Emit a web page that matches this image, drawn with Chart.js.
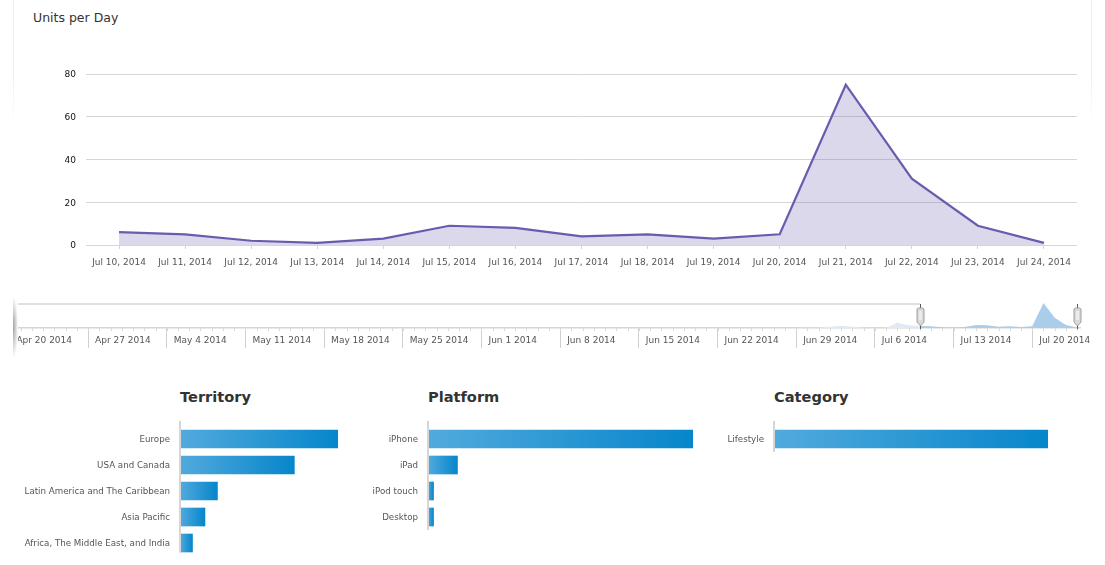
<!DOCTYPE html>
<html>
<head>
<meta charset="utf-8">
<title>Units per Day</title>
<script src="https://cdn.jsdelivr.net/npm/chart.js@4"></script>
<style>
    html, body { margin: 0; padding: 0; background: #fff; overflow: hidden; }
    body { width: 1105px; height: 565px; position: relative; font-family: "DejaVu Sans", sans-serif; }
    canvas { position: absolute; display: block; }
    .titulo { position: absolute; margin: 0; color: #333; white-space: nowrap; }
    .panelTitle { top: 10px; left: 33px; font-size: 12.5px; font-weight: normal; line-height: 16px; }
    .barTitle { top: 387px; font-size: 14.6px; font-weight: bold; line-height: 20px; }
    .edge { position: absolute; top: 0; width: 1px; height: 125px; background: linear-gradient(#efefef, #efefef 60%, #fff); }
    .navShadow { position: absolute; left: 13px; top: 296px; width: 5px; height: 62px; background: radial-gradient(ellipse at left center, #a0a0a0, #fff 72%); }
</style>
</head>
<body>
<div class="edge" style="left:13px"></div>
<div class="edge" style="left:1091px"></div>
<h2 class="titulo panelTitle">Units per Day</h2>
<canvas id="chartUnits" width="1105" height="290" style="left:0;top:0"></canvas>
<canvas id="chartNav" width="1105" height="70" style="left:0;top:290px"></canvas>
<div class="navShadow"></div>
<h3 class="titulo barTitle" style="left:180px">Territory</h3>
<h3 class="titulo barTitle" style="left:428px">Platform</h3>
<h3 class="titulo barTitle" style="left:774px">Category</h3>
<canvas id="chartTerritory" width="350" height="150" style="left:0;top:415px"></canvas>
<canvas id="chartPlatform" width="350" height="150" style="left:350px;top:415px"></canvas>
<canvas id="chartCategory" width="405" height="150" style="left:700px;top:415px"></canvas>

<script>
// Main chart
const dayLabels = ['Jul 10, 2014', 'Jul 11, 2014', 'Jul 12, 2014', 'Jul 13, 2014', 'Jul 14, 2014',
    'Jul 15, 2014', 'Jul 16, 2014', 'Jul 17, 2014', 'Jul 18, 2014', 'Jul 19, 2014',
    'Jul 20, 2014', 'Jul 21, 2014', 'Jul 22, 2014', 'Jul 23, 2014', 'Jul 24, 2014'];
const unitsPerDay = [6, 5, 2, 1, 3, 9, 8, 4, 5, 3, 5, 75, 31, 9, 1];
const unitTicks = [0, 20, 40, 60, 80];

// Navigator: one value per day, day 0 is Apr 20 2014
const navValues = [
    0, 0, 0, 0, 0, 0, 0, 0, 0, 0, 0, 0, 0, 0,
    0, 0, 0, 0, 0, 0, 0, 0, 0, 0, 0, 0, 0, 0,
    0, 0, 0, 0, 0, 0, 0, 0, 0, 0, 0, 0, 0, 0,
    0, 0, 0, 0, 0, 0, 0, 0, 0, 0, 0, 0, 0, 0,
    0, 0, 0, 0, 0, 0, 0, 0, 0, 0, 0, 0, 0, 0,
    0, 1, 1, 4, 7, 4, 1, 0, 1, 16, 8,
    6, 5, 2, 1, 3, 9, 8, 4, 5, 3, 5, 75, 31, 9, 1
];
const navWeekLabels = ['Apr 20 2014', 'Apr 27 2014', 'May 4 2014', 'May 11 2014', 'May 18 2014',
    'May 25 2014', 'Jun 1 2014', 'Jun 8 2014', 'Jun 15 2014', 'Jun 22 2014', 'Jun 29 2014',
    'Jul 6 2014', 'Jul 13 2014', 'Jul 20 2014'];
const navWeekDays = [0, 7, 14, 21, 28, 35, 42, 49, 56, 63, 70, 77, 84, 91];
const selectionStart = 81; // Jul 10
const selectionEnd = 95;   // Jul 24

// Bar charts
const territoryNames = ['Europe', 'USA and Canada', 'Latin America and The Caribbean', 'Asia Pacific', 'Africa, The Middle East, and India'];
const territoryUnits = [76, 55, 18, 12, 6];
const platformNames = ['iPhone', 'iPad', 'iPod touch', 'Desktop'];
const platformUnits = [144, 16, 3, 3];
const categoryNames = ['Lifestyle'];
const categoryUnits = [167];

const FONT = '"DejaVu Sans", sans-serif';
Chart.defaults.animation = false;
Chart.defaults.responsive = false;
Chart.defaults.font.family = FONT;
Chart.defaults.plugins.legend.display = false;
Chart.defaults.plugins.tooltip.enabled = false;

/**
 * Units per Day
 */
new Chart(document.getElementById('chartUnits'), {
    type: 'line',
    data: {
        labels: dayLabels,
        datasets: [{
            data: unitsPerDay,
            borderColor: '#6a5bae',
            borderWidth: 2.2,
            backgroundColor: 'rgba(106, 91, 174, 0.24)',
            fill: 'origin',
            tension: 0,
            pointRadius: 0
        }]
    },
    options: {
        layout: { padding: { top: 74, right: 28 } },
        scales: {
            x: {
                offset: true,
                afterFit: (scale) => { scale.height = 45; },
                border: { display: false },
                grid: { offset: false, drawOnChartArea: false, tickLength: 4, tickColor: '#d4d4d4' },
                ticks: { color: '#555', font: { size: 9 }, padding: 8, maxRotation: 0, autoSkip: false }
            },
            y: {
                min: 0,
                max: 80,
                afterFit: (scale) => { scale.width = 86; },
                afterBuildTicks: (scale) => { scale.ticks = unitTicks.map(v => ({ value: v })); },
                border: { display: false },
                grid: { color: '#d6d6d6', drawTicks: false },
                ticks: { color: '#111', font: { size: 9 }, padding: 10, labelOffset: 1 }
            }
        }
    }
});

/**
 * Navigator extras: daily ticks, week labels, selection line and handles
 */
const navExtras = {
    id: 'navExtras',
    afterDraw(chart) {
        const { ctx, chartArea } = chart;
        const x = chart.scales.x;
        const bottom = chartArea.bottom;

        ctx.save();
        ctx.strokeStyle = '#d8d8d8';
        ctx.lineWidth = 1;
        for (let day = Math.ceil(x.min); day <= selectionEnd; day++) {
            const px = Math.round(x.getPixelForValue(day)) + 0.5;
            ctx.beginPath();
            ctx.moveTo(px, bottom);
            ctx.lineTo(px, bottom + 3);
            ctx.stroke();
        }

        ctx.fillStyle = '#555';
        ctx.font = '9px ' + FONT;
        ctx.textAlign = 'left';
        ctx.textBaseline = 'middle';
        navWeekDays.forEach((day, i) => {
            ctx.fillText(navWeekLabels[i], x.getPixelForValue(day) + 7, bottom + 13);
        });

        // Line above the part left of the selection
        const handleA = x.getPixelForValue(selectionStart);
        const handleB = x.getPixelForValue(selectionEnd);
        ctx.strokeStyle = '#d6d6d6';
        ctx.lineWidth = 1.5;
        ctx.beginPath();
        ctx.moveTo(chartArea.left, 14);
        ctx.lineTo(handleA, 14);
        ctx.stroke();

        [handleA, handleB].forEach(px => drawHandle(ctx, Math.round(px) + 0.5));
        ctx.restore();
    }
};

function drawHandle(ctx, px) {
    ctx.strokeStyle = '#555';
    ctx.lineWidth = 1;
    ctx.beginPath();
    ctx.moveTo(px, 14);
    ctx.lineTo(px, 39);
    ctx.stroke();

    ctx.fillStyle = '#d9d9d9';
    ctx.strokeStyle = '#a0a0a0';
    ctx.beginPath();
    ctx.moveTo(px - 3.5, 19);
    ctx.lineTo(px - 2, 18);
    ctx.lineTo(px + 2, 18);
    ctx.lineTo(px + 3.5, 19);
    ctx.lineTo(px + 3.5, 32);
    ctx.lineTo(px, 36);
    ctx.lineTo(px - 3.5, 32);
    ctx.closePath();
    ctx.fill();
    ctx.stroke();

    ctx.fillStyle = '#ececec';
    ctx.fillRect(px - 1.5, 21, 3, 9);
}

const navPoints = navValues.map((v, i) => ({ x: i, y: v }));

new Chart(document.getElementById('chartNav'), {
    type: 'line',
    data: {
        datasets: [
            {
                data: navPoints.filter(p => p.x <= selectionStart),
                backgroundColor: '#deeaf6',
                borderWidth: 0,
                fill: 'origin',
                pointRadius: 0
            },
            {
                data: navPoints.filter(p => p.x >= selectionStart),
                backgroundColor: '#a9cdea',
                borderWidth: 0,
                fill: 'origin',
                pointRadius: 0
            }
        ]
    },
    options: {
        layout: { padding: { left: 14, right: 25, top: 13 } },
        scales: {
            x: {
                type: 'linear',
                min: 0.41,
                max: 95.25,
                afterFit: (scale) => { scale.height = 32; },
                afterBuildTicks: (scale) => {
                    scale.ticks = navWeekDays.filter(d => d > scale.min).map(v => ({ value: v }));
                },
                border: { color: '#d6d6d6', width: 1.5 },
                grid: { drawOnChartArea: false, tickLength: 20, tickColor: '#d0d0d0' },
                ticks: { display: false }
            },
            y: { display: false, min: 0, max: 75 }
        }
    },
    plugins: [navExtras]
});

/**
 * Horizontal bars
 */
const barAxisLine = {
    id: 'barAxisLine',
    afterDraw(chart) {
        const { ctx, chartArea } = chart;
        ctx.save();
        ctx.strokeStyle = '#d6d6d6';
        ctx.lineWidth = 2;
        ctx.beginPath();
        ctx.moveTo(chartArea.left, chartArea.top - 5);
        ctx.lineTo(chartArea.left, Math.min(chartArea.bottom, 137.5));
        ctx.stroke();
        ctx.restore();
    }
};

function barGradient(context) {
    const chart = context.chart;
    if (!chart.chartArea || !chart.scales.x || context.raw === undefined) return '#2c97d4';
    const x0 = chart.scales.x.getPixelForValue(0);
    const x1 = chart.scales.x.getPixelForValue(context.raw);
    const gradient = chart.ctx.createLinearGradient(x0, 0, x1, 0);
    gradient.addColorStop(0, '#52aadd');
    gradient.addColorStop(1, '#0686cb');
    return gradient;
}

function renderBars(canvasId, names, values, axisLeft, axisRight, canvasWidth) {
    new Chart(document.getElementById(canvasId), {
        type: 'bar',
        data: {
            labels: names,
            datasets: [{
                data: values,
                backgroundColor: barGradient,
                barThickness: 18
            }]
        },
        options: {
            indexAxis: 'y',
            layout: { padding: { top: 11, right: canvasWidth - axisRight, bottom: 150 - 11 - names.length * 26 } },
            scales: {
                x: { display: false, min: 0, max: Math.max(...values) },
                y: {
                    afterFit: (scale) => {
                        scale.width = axisLeft;
                        scale.paddingTop = 0;
                        scale.paddingBottom = 0;
                    },
                    border: { display: false },
                    grid: { display: false, drawTicks: false },
                    ticks: { color: '#555', font: { size: 8.7 }, padding: 10, autoSkip: false, labelOffset: 1 }
                }
            }
        },
        plugins: [barAxisLine]
    });
}

renderBars('chartTerritory', territoryNames, territoryUnits, 180, 338, 350);
renderBars('chartPlatform', platformNames, platformUnits, 78, 343, 350);
renderBars('chartCategory', categoryNames, categoryUnits, 74, 348, 405);
</script>
</body>
</html>
